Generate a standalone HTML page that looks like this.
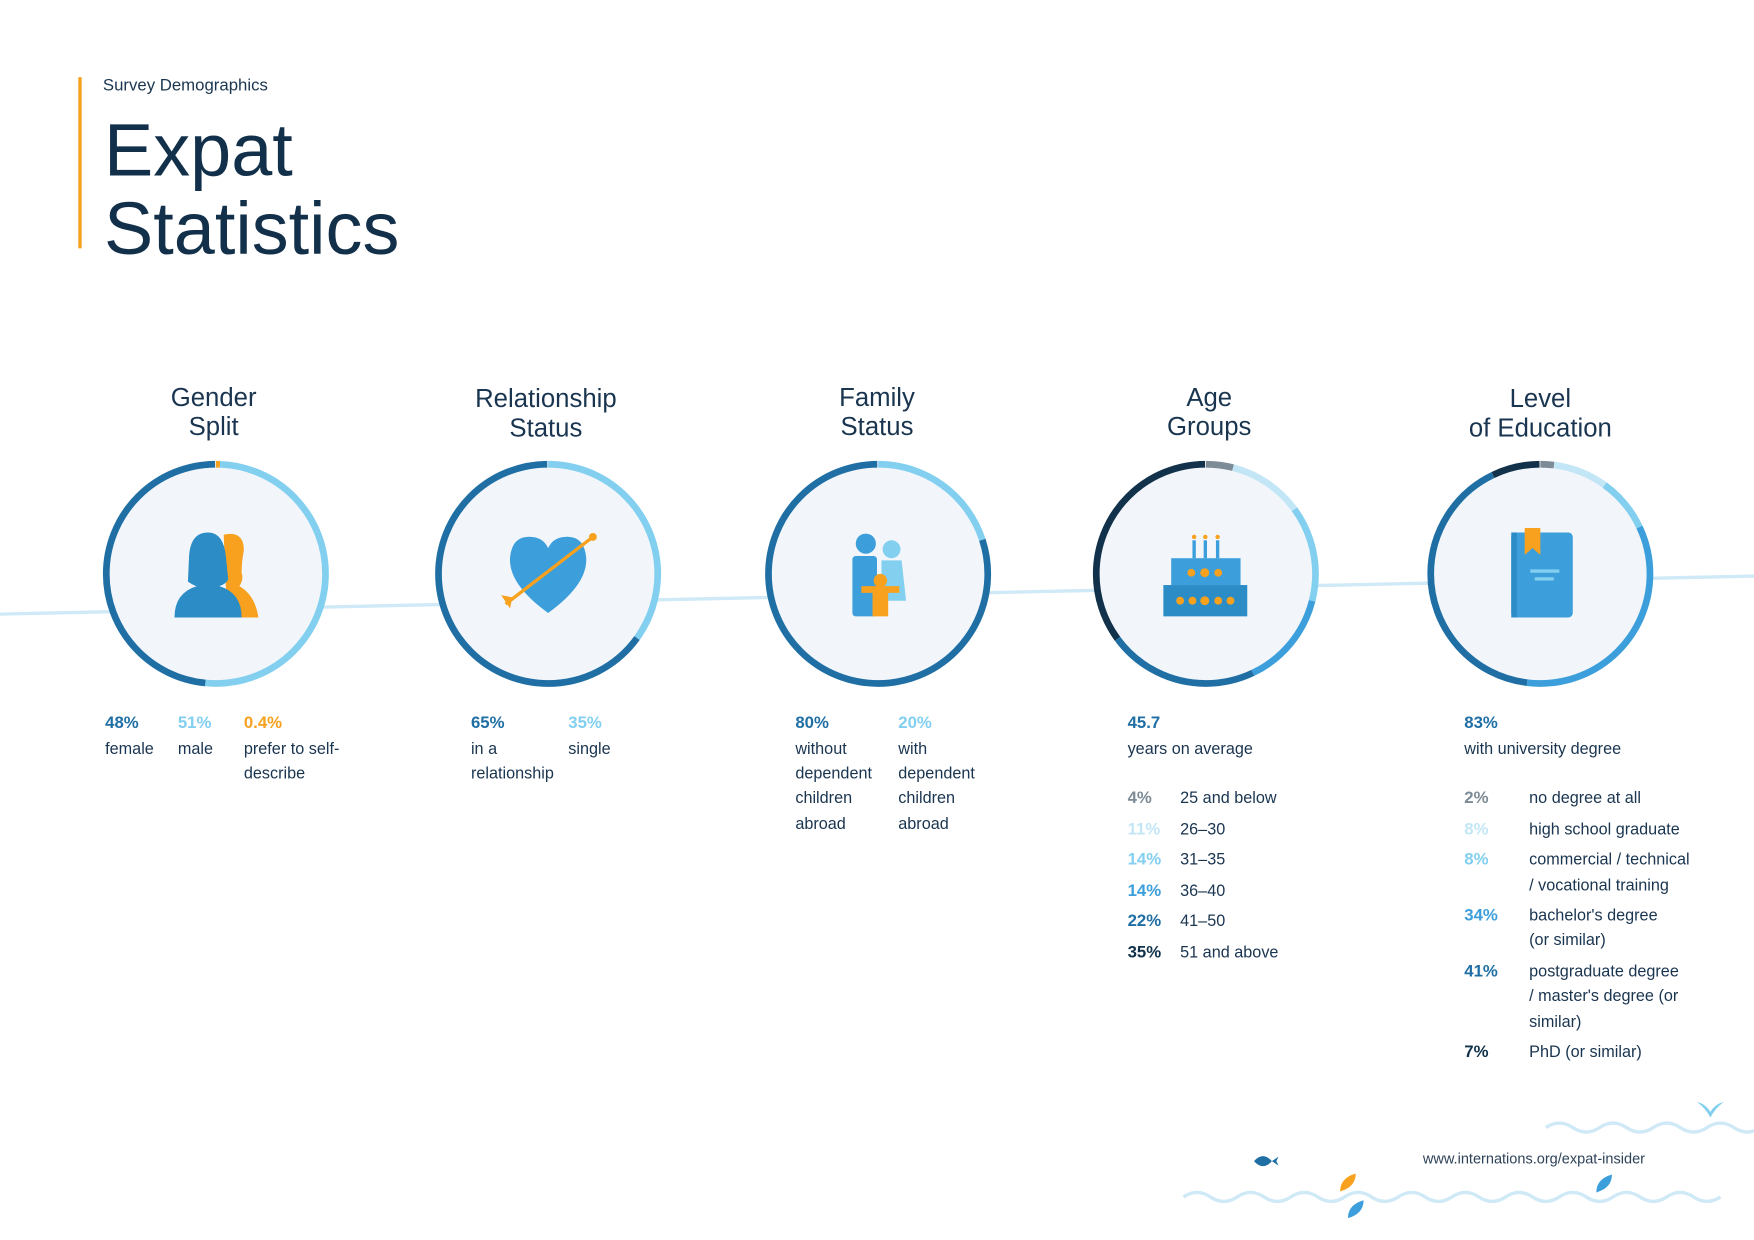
<!DOCTYPE html>
<html><head><meta charset="utf-8"><style>
html,body{margin:0;padding:0;background:#fff}
svg{display:block}
text{font-family:"Liberation Sans",sans-serif;fill:#1a3550}
.t{font-size:23px;text-anchor:middle}
.p{font-size:15px;font-weight:bold}
.l{font-size:14.5px}
</style></head><body>
<svg width="1754" height="1240" viewBox="0 0 1568 1108.5" xmlns="http://www.w3.org/2000/svg">
<rect width="1568" height="1109" fill="#fff"/>
<!-- header -->
<rect x="70" y="69" width="3" height="153" fill="#f7a11f"/>
<text x="92" y="81" style="font-size:15px">Survey Demographics</text>
<text x="93" y="157" style="font-size:66px;fill:#12304a">Expat</text>
<text x="93" y="227" style="font-size:66px;fill:#12304a">Statistics</text>
<!-- background line -->
<line x1="0" y1="549" x2="1568" y2="515" stroke="#cfe9f7" stroke-width="3"/>
<!-- titles -->
<text class="t" x="191" y="363">Gender</text><text class="t" x="191" y="389">Split</text>
<text class="t" x="488" y="364">Relationship</text><text class="t" x="488" y="390">Status</text>
<text class="t" x="784" y="363">Family</text><text class="t" x="784" y="389">Status</text>
<text class="t" x="1081" y="363">Age</text><text class="t" x="1081" y="389">Groups</text>
<text class="t" x="1377" y="364">Level</text><text class="t" x="1377" y="390">of Education</text>
<defs>
<g id="base"><circle r="98" fill="#f2f6fb"/></g>
</defs>
<!-- circles -->
<g transform="translate(193,513) rotate(-90)" fill="none" stroke-width="6">
<circle r="98" fill="#f2f6fb" stroke="none"/>
<circle r="98" pathLength="100" stroke="#f7a11f" stroke-dasharray="0.6 100"/>
<circle r="98" pathLength="100" stroke="#82cff0" stroke-dasharray="51 100" stroke-dashoffset="-0.6"/>
<circle r="98" pathLength="100" stroke="#1f6fa5" stroke-dasharray="48.4 100" stroke-dashoffset="-51.6"/>
</g>
<g transform="translate(490,513) rotate(-90)" fill="none" stroke-width="6">
<circle r="98" fill="#f2f6fb" stroke="none"/>
<circle r="98" pathLength="100" stroke="#82cff0" stroke-dasharray="35 100"/>
<circle r="98" pathLength="100" stroke="#1f6fa5" stroke-dasharray="65 100" stroke-dashoffset="-35"/>
</g>
<g transform="translate(785,513) rotate(-90)" fill="none" stroke-width="6">
<circle r="98" fill="#f2f6fb" stroke="none"/>
<circle r="98" pathLength="100" stroke="#82cff0" stroke-dasharray="20 100"/>
<circle r="98" pathLength="100" stroke="#1f6fa5" stroke-dasharray="80 100" stroke-dashoffset="-20"/>
</g>
<g transform="translate(1078,513) rotate(-90)" fill="none" stroke-width="6">
<circle r="98" fill="#f2f6fb" stroke="none"/>
<circle r="98" pathLength="100" stroke="#7d8b96" stroke-dasharray="4 100"/>
<circle r="98" pathLength="100" stroke="#c3e6f7" stroke-dasharray="11 100" stroke-dashoffset="-4"/>
<circle r="98" pathLength="100" stroke="#82cff0" stroke-dasharray="14 100" stroke-dashoffset="-15"/>
<circle r="98" pathLength="100" stroke="#3c9fdb" stroke-dasharray="14 100" stroke-dashoffset="-29"/>
<circle r="98" pathLength="100" stroke="#1f6fa5" stroke-dasharray="22 100" stroke-dashoffset="-43"/>
<circle r="98" pathLength="100" stroke="#11324a" stroke-dasharray="35 100" stroke-dashoffset="-65"/>
</g>
<g transform="translate(1377,513) rotate(-90)" fill="none" stroke-width="6">
<circle r="98" fill="#f2f6fb" stroke="none"/>
<circle r="98" pathLength="100" stroke="#7d8b96" stroke-dasharray="2 100"/>
<circle r="98" pathLength="100" stroke="#c3e6f7" stroke-dasharray="8 100" stroke-dashoffset="-2"/>
<circle r="98" pathLength="100" stroke="#82cff0" stroke-dasharray="8 100" stroke-dashoffset="-10"/>
<circle r="98" pathLength="100" stroke="#3c9fdb" stroke-dasharray="34 100" stroke-dashoffset="-18"/>
<circle r="98" pathLength="100" stroke="#1f6fa5" stroke-dasharray="41 100" stroke-dashoffset="-52"/>
<circle r="98" pathLength="100" stroke="#11324a" stroke-dasharray="7 100" stroke-dashoffset="-93"/>
</g>
<!-- icons -->
<g>
<path d="M200 478 q18 -4 18 14 q-2 10 -2 20 q2 6 -2 12 q14 8 17 28 h-28z" fill="#f7a11f"/>
<path d="M186 476 q-16 0 -17 22 l-1 22 q6 4 8 4 q-20 6 -20 28 h60 q0 -22 -20 -28 q6 -2 8 -6 l-2 -20 q-2 -22 -16 -22z" fill="#2b8cc6"/>
</g>
<g>
<path d="M490 548 q-36 -26 -34 -50 q2 -20 20 -18 q10 1 14 10 q4 -9 14 -10 q18 -2 20 18 q2 24 -34 50z" fill="#3c9fdb"/>
<line x1="452" y1="540" x2="530" y2="480" stroke="#f7a11f" stroke-width="3"/>
<circle cx="530" cy="480" r="3.5" fill="#f7a11f"/>
<path d="M448 532 l10 2 l-2 10 z" fill="#f7a11f"/>
</g>
<g>
<circle cx="774" cy="486" r="9" fill="#3c9fdb"/>
<circle cx="797" cy="491" r="8" fill="#82cff0"/>
<rect x="762" y="497" width="22" height="54" rx="3" fill="#3c9fdb"/>
<path d="M788 501 h18 l4 36 h-22z" fill="#82cff0"/>
<circle cx="787" cy="519" r="6" fill="#f7a11f"/>
<path d="M770 524 h34 v6 h-10 v21 h-14 v-21 h-10z" fill="#f7a11f"/>
</g>
<g>
<rect x="1066" y="483" width="3" height="16" fill="#3c9fdb"/><rect x="1076" y="483" width="3" height="16" fill="#3c9fdb"/><rect x="1087" y="483" width="3" height="16" fill="#3c9fdb"/>
<circle cx="1067.5" cy="480" r="2" fill="#f7a11f"/><circle cx="1077.5" cy="480" r="2" fill="#f7a11f"/><circle cx="1088.5" cy="480" r="2" fill="#f7a11f"/>
<rect x="1047" y="499" width="62" height="24" fill="#3c9fdb"/>
<rect x="1040" y="523" width="75" height="28" fill="#2b8cc6"/>
<g fill="#f7a11f"><circle cx="1065" cy="512" r="3.5"/><circle cx="1077" cy="512" r="4"/><circle cx="1089" cy="512" r="3.5"/>
<circle cx="1055" cy="537" r="3.5"/><circle cx="1066" cy="537" r="3.5"/><circle cx="1077" cy="537" r="4"/><circle cx="1089" cy="537" r="3.5"/><circle cx="1100" cy="537" r="3.5"/></g>
</g>
<g>
<rect x="1351" y="476" width="55" height="76" rx="4" fill="#3c9fdb"/>
<rect x="1351" y="476" width="5" height="76" fill="#2b8cc6"/>
<path d="M1363 472 h14 v24 l-7 -6 l-7 6z" fill="#f7a11f"/>
<rect x="1368" y="509" width="26" height="3" fill="#82cff0"/><rect x="1372" y="516" width="17" height="3" fill="#82cff0"/>
</g>
<!-- stats -->
<text class="p" x="94" y="651" style="fill:#1f6fa5">48%</text><text class="l" x="94" y="674">female</text>
<text class="p" x="159" y="651" style="fill:#82cff0">51%</text><text class="l" x="159" y="674">male</text>
<text class="p" x="218" y="651" style="fill:#f7a11f">0.4%</text><text class="l" x="218" y="674">prefer to self-</text><text class="l" x="218" y="696">describe</text>

<text class="p" x="421" y="651" style="fill:#1f6fa5">65%</text><text class="l" x="421" y="674">in a</text><text class="l" x="421" y="696">relationship</text>
<text class="p" x="508" y="651" style="fill:#82cff0">35%</text><text class="l" x="508" y="674">single</text>

<text class="p" x="711" y="651" style="fill:#1f6fa5">80%</text><text class="l" x="711" y="674">without</text><text class="l" x="711" y="696">dependent</text><text class="l" x="711" y="718">children</text><text class="l" x="711" y="741">abroad</text>
<text class="p" x="803" y="651" style="fill:#82cff0">20%</text><text class="l" x="803" y="674">with</text><text class="l" x="803" y="696">dependent</text><text class="l" x="803" y="718">children</text><text class="l" x="803" y="741">abroad</text>

<text class="p" x="1008" y="651" style="fill:#1f6fa5">45.7</text><text class="l" x="1008" y="674">years on average</text>
<text class="p" x="1008" y="718" style="fill:#7d8b96">4%</text><text class="l" x="1055" y="718">25 and below</text>
<text class="p" x="1008" y="746" style="fill:#c3e6f7">11%</text><text class="l" x="1055" y="746">26–30</text>
<text class="p" x="1008" y="773" style="fill:#82cff0">14%</text><text class="l" x="1055" y="773">31–35</text>
<text class="p" x="1008" y="801" style="fill:#3c9fdb">14%</text><text class="l" x="1055" y="801">36–40</text>
<text class="p" x="1008" y="828" style="fill:#1f6fa5">22%</text><text class="l" x="1055" y="828">41–50</text>
<text class="p" x="1008" y="856" style="fill:#11324a">35%</text><text class="l" x="1055" y="856">51 and above</text>

<text class="p" x="1309" y="651" style="fill:#1f6fa5">83%</text><text class="l" x="1309" y="674">with university degree</text>
<text class="p" x="1309" y="718" style="fill:#7d8b96">2%</text><text class="l" x="1367" y="718">no degree at all</text>
<text class="p" x="1309" y="746" style="fill:#c3e6f7">8%</text><text class="l" x="1367" y="746">high school graduate</text>
<text class="p" x="1309" y="773" style="fill:#82cff0">8%</text><text class="l" x="1367" y="773">commercial / technical</text><text class="l" x="1367" y="796">/ vocational training</text>
<text class="p" x="1309" y="823" style="fill:#3c9fdb">34%</text><text class="l" x="1367" y="823">bachelor's degree</text><text class="l" x="1367" y="845">(or similar)</text>
<text class="p" x="1309" y="873" style="fill:#1f6fa5">41%</text><text class="l" x="1367" y="873">postgraduate degree</text><text class="l" x="1367" y="895">/ master's degree (or</text><text class="l" x="1367" y="918">similar)</text>
<text class="p" x="1309" y="945" style="fill:#11324a">7%</text><text class="l" x="1367" y="945">PhD (or similar)</text>

<!-- footer -->
<text x="1272" y="1040" style="font-size:13px;fill:#2e4258">www.internations.org/expat-insider</text>
<path d="M1382 1008 q12 -8 24 0 t24 0 t24 0 t24 0 t24 0 t24 0 t24 0 t24 0" fill="none" stroke="#cfe9f7" stroke-width="3"/>
<path d="M1058 1070 q12 -8 24 0 t24 0 t24 0 t24 0 t24 0 t24 0 t24 0 t24 0 t24 0 t24 0 t24 0 t24 0 t24 0 t24 0 t24 0 t24 0 t24 0 t24 0 t24 0 t24 0" fill="none" stroke="#cfe9f7" stroke-width="3"/>
<path d="M1517 985 q8 2 12 9 q4 -7 12 -9 q-8 6 -12 14 q-4 -8 -12 -14z" fill="#82cff0"/>
<path d="M1121 1038 q8 -9 16 0 l6 -4 l-2 4 l2 4 l-6 -4 q-8 9 -16 0z" fill="#1f6fa5"/>
<path d="M1198 1065 q0 -12 14 -16 q0 12 -14 16z" fill="#f7a11f"/>
<path d="M1205 1089 q0 -12 14 -16 q0 12 -14 16z" fill="#3c9fdb"/>
<path d="M1427 1066 q0 -12 14 -16 q0 12 -14 16z" fill="#3c9fdb"/>
</svg>
</body></html>
